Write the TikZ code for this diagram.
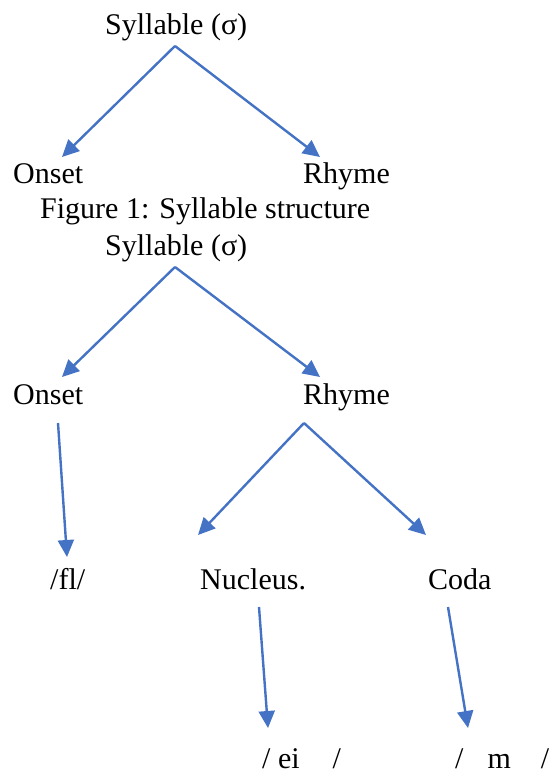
\documentclass[tikz,border=0pt]{standalone}
\usepackage{fontspec}
\setmainfont{Liberation Serif}
\usetikzlibrary{arrows.meta}
\definecolor{arrowblue}{HTML}{4472C4}
\tikzset{
  word/.style={anchor=base west, inner sep=0pt, font=\fontsize{30}{36}\selectfont},
  branch/.style={draw=arrowblue, line width=2.4pt, -{Triangle[length=17pt,width=16pt]}}
}

\begin{document}
\begin{tikzpicture}[x=1pt, y=-1pt]
    \useasboundingbox (0,0) rectangle (553,774);

    % Figure 1
    \node[word] (syl1) at (105,34) {Syllable (σ)};
    \node[word] (on1) at (13,183) {Onset};
    \node[word] (rh1) at (303,183) {Rhyme};
    \node[word] (cap) at (40,218) {Figure 1: Syllable structure};

    % Figure 2
    \node[word] (syl2) at (105,255) {Syllable (σ)};
    \node[word] (on2) at (13,404) {Onset};
    \node[word] (rh2) at (303,404) {Rhyme};
    \node[word] (fl) at (50,589) {/fl/};
    \node[word] (nuc) at (200,589) {Nucleus.};
    \node[word] (coda) at (428,589) {Coda};
    \node[word] (ei) at (262,768) {/ ei\hspace{33pt}/};
    \node[word] (m) at (455,768) {/\hspace{24pt}m\hspace{30pt}/};

    % ends of the arrows
    \coordinate (syl1-b) at (175,46);
    \coordinate (on1-t) at (62,157);
    \coordinate (rh1-t) at (320,157);
    \coordinate (syl2-b) at (175,267);
    \coordinate (on2-t) at (62,377);
    \coordinate (rh2-t) at (320,377);
    \coordinate (on2-b) at (58,423);
    \coordinate (fl-t) at (67,557);
    \coordinate (rh2-b) at (304,423);
    \coordinate (nuc-t) at (198,535);
    \coordinate (coda-t) at (426,535);
    \coordinate (nuc-b) at (259,607);
    \coordinate (ei-t) at (268,728);
    \coordinate (coda-b) at (448,607);
    \coordinate (m-t) at (468,728);

    % arrows
    \draw[branch] (syl1-b) -- (on1-t);
    \draw[branch] (syl1-b) -- (rh1-t);
    \draw[branch] (syl2-b) -- (on2-t);
    \draw[branch] (syl2-b) -- (rh2-t);
    \draw[branch] (on2-b) -- (fl-t);
    \draw[branch] (rh2-b) -- (nuc-t);
    \draw[branch] (rh2-b) -- (coda-t);
    \draw[branch] (nuc-b) -- (ei-t);
    \draw[branch] (coda-b) -- (m-t);
\end{tikzpicture}
\end{document}
